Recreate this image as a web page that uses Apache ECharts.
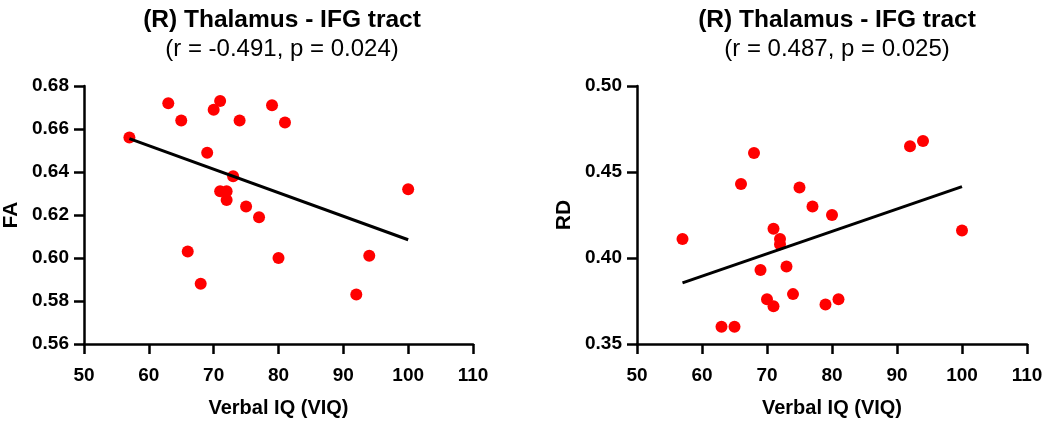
<!DOCTYPE html>
<html>
<head>
<meta charset="utf-8">
<script src="https://cdn.jsdelivr.net/npm/echarts@6/dist/echarts.min.js"></script>
<style>
html,body{margin:0;padding:0;background:#fff;}
#chart{width:1050px;height:423px;}
</style>
</head>
<body>
<div id="chart"></div>
<script>
// ---- Data ----
const leftTitle = "(R) Thalamus - IFG tract";
const leftSub = "(r = -0.491, p = 0.024)";
const rightTitle = "(R) Thalamus - IFG tract";
const rightSub = "(r = 0.487, p = 0.025)";
const xName = "Verbal IQ (VIQ)";
const leftYName = "FA";
const rightYName = "RD";

const faPoints = [
  [57, 0.656], [63, 0.672], [65, 0.664], [70, 0.669], [71, 0.673],
  [74, 0.664], [79, 0.671], [81, 0.663], [69, 0.649], [73, 0.638],
  [71, 0.631], [72, 0.631], [72, 0.627], [75, 0.624], [77, 0.619],
  [100, 0.632], [66, 0.603], [80, 0.600], [94, 0.601], [68, 0.588],
  [92, 0.583]
];
const faFit = [[57, 0.6555], [100, 0.6085]];

const rdPoints = [
  [57, 0.411], [63, 0.360], [65, 0.360], [66, 0.443], [68, 0.461],
  [69, 0.393], [70, 0.376], [71, 0.372], [71, 0.417], [72, 0.411],
  [72, 0.408], [73, 0.395], [74, 0.379], [75, 0.441], [77, 0.430],
  [79, 0.373], [80, 0.425], [81, 0.376], [92, 0.465], [94, 0.468],
  [100, 0.416]
];
const rdFit = [[57, 0.3855], [100, 0.4415]];

const xTicks = {min: 50, max: 110, interval: 10};
const faTicks = {min: 0.56, max: 0.68, interval: 0.02};
const rdTicks = {min: 0.35, max: 0.50, interval: 0.05};

// ---- Chart ----
const FONT = '"Liberation Sans", Arial, Helvetica, sans-serif';
const chart = echarts.init(document.getElementById('chart'), null, {renderer: 'canvas'});

function xAxis(idx) {
  return {
    type: 'value', gridIndex: idx,
    min: xTicks.min, max: xTicks.max, interval: xTicks.interval,
    name: xName, nameLocation: 'middle', nameGap: 54,
    nameTextStyle: {fontFamily: FONT, fontWeight: 'bold', fontSize: 20, color: '#000'},
    axisLine: {show: true, lineStyle: {color: '#000', width: 2.5}},
    axisTick: {show: true, length: 10, lineStyle: {color: '#000', width: 2.5}},
    axisLabel: {fontFamily: FONT, fontWeight: 'bold', fontSize: 19, color: '#000', margin: 22},
    splitLine: {show: false}
  };
}
function yAxis(idx, ticks, name) {
  return {
    type: 'value', gridIndex: idx,
    min: ticks.min, max: ticks.max, interval: ticks.interval,
    name: name, nameLocation: 'middle', nameGap: 62,
    nameTextStyle: {fontFamily: FONT, fontWeight: 'bold', fontSize: 21, color: '#000'},
    axisLine: {show: true, lineStyle: {color: '#000', width: 2.5}},
    axisTick: {show: true, length: 10, lineStyle: {color: '#000', width: 2.5}},
    axisLabel: {fontFamily: FONT, fontWeight: 'bold', fontSize: 19, color: '#000', margin: 15,
      formatter: v => v.toFixed(2)},
    splitLine: {show: false}
  };
}
function title(cx, text, sub) {
  return {
    text: text, subtext: sub, left: cx, top: 2, textAlign: 'center', itemGap: 3,
    textStyle: {fontFamily: FONT, fontWeight: 'bold', fontSize: 24.5, lineHeight: 26, color: '#000'},
    subtextStyle: {fontFamily: FONT, fontWeight: 'normal', fontSize: 24, lineHeight: 26, color: '#000'}
  };
}

chart.setOption({
  animation: false,
  backgroundColor: '#fff',
  title: [title(277, leftTitle, leftSub), title(832, rightTitle, rightSub)],
  grid: [
    {left: 82, top: 86, width: 391, height: 261},
    {left: 637, top: 86, width: 390, height: 261}
  ],
  xAxis: [xAxis(0), xAxis(1)],
  yAxis: [yAxis(0, faTicks, leftYName), yAxis(1, rdTicks, rightYName)],
  series: [
    {type: 'scatter', xAxisIndex: 0, yAxisIndex: 0, data: faPoints, symbolSize: 12,
     itemStyle: {color: '#ff0000', opacity: 1}, z: 2},
    {type: 'line', xAxisIndex: 0, yAxisIndex: 0, data: faFit, symbol: 'none',
     lineStyle: {color: '#000', width: 3}, z: 3},
    {type: 'scatter', xAxisIndex: 1, yAxisIndex: 1, data: rdPoints, symbolSize: 12,
     itemStyle: {color: '#ff0000', opacity: 1}, z: 2},
    {type: 'line', xAxisIndex: 1, yAxisIndex: 1, data: rdFit, symbol: 'none',
     lineStyle: {color: '#000', width: 3}, z: 3}
  ]
});
</script>
</body>
</html>
